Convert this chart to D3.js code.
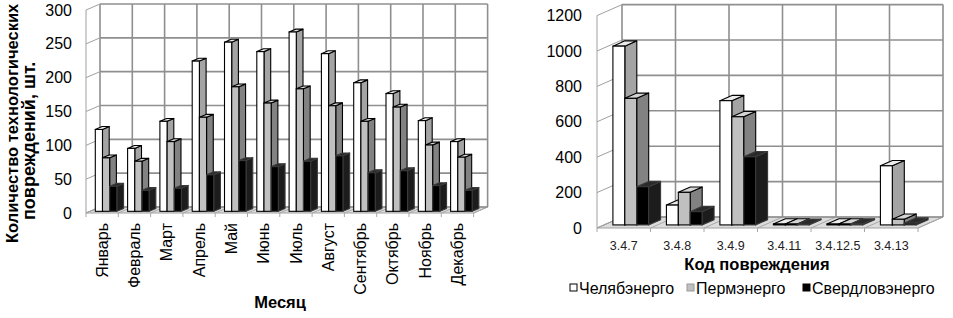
<!DOCTYPE html>
<html>
<head>
<meta charset="utf-8">
<script src="https://cdn.jsdelivr.net/npm/d3@7"></script>
<style>
  body { margin: 0; background: #fff; }
  svg { display: block; font-family: "Liberation Sans", Arial, sans-serif; }
</style>
</head>
<body>
<svg id="chart" width="953" height="318"></svg>
<script>
// data
const seriesNames = ["Челябэнерго", "Пермэнерго", "Свердловэнерго"];

const months = ["Январь", "Февраль", "Март", "Апрель", "Май", "Июнь",
                "Июль", "Август", "Сентябрь", "Октябрь", "Ноябрь", "Декабрь"];
const monthChel  = [121, 93, 133, 222, 250, 236, 265, 233, 190, 174, 134, 103];
const monthPerm  = [79, 74, 103, 139, 184, 160, 181, 156, 133, 154, 98, 80];
const monthSverd = [37, 31, 34, 54, 75, 66, 74, 82, 57, 60, 38, 31];
const monthTicks = [0, 50, 100, 150, 200, 250, 300];

const codes = ["3.4.7", "3.4.8", "3.4.9", "3.4.11", "3.4.12.5", "3.4.13"];
const codeChel  = [1010, 112, 702, 5, 5, 334];
const codePerm  = [715, 184, 611, 5, 5, 32];
const codeSverd = [216, 75, 385, 3, 5, 10];
const codeTicks = [0, 200, 400, 600, 800, 1000, 1200];

// bar colours: front, side, top
const barStyle = [
    {front: "#ffffff", side: "#a4a4a4", top: "#ececec", stroke: "#000"},
    {front: "#c0c0c0", side: "#828282", top: "#d4d4d4", stroke: "#000"},
    {front: "#000000", side: "#1c1c1c", top: "#2a2a2a", stroke: "#3a3a3a"}
];
const gridColor = "#8f8f8f";

let svg = d3.select("#chart");

function draw3dChart(g, cats, series, ticks, o) {
    let x = d3.scaleBand().domain(cats).range([o.x0, o.x1]);
    let sx = d3.scaleBand().domain(d3.range(series.length))
        .range([0, x.bandwidth()]).paddingInner(0).paddingOuter(0.75);
    let y = d3.scaleLinear().domain([0, d3.max(ticks)]).range([o.yBottom, o.yTop]);
    let DX = o.dx, DY = o.dy;
    let z0 = 0.28, dz = 0.48;

    // back wall
    g.append("rect")
        .attr("x", o.x0 + DX).attr("y", y(d3.max(ticks)) + DY)
        .attr("width", o.x1 - o.x0).attr("height", y(0) - y(d3.max(ticks)))
        .attr("fill", "#fff");

    // floor
    g.append("path")
        .attr("d", d3.line()([[o.x0, y(0)], [o.x1, y(0)], [o.x1 + DX, y(0) + DY], [o.x0 + DX, y(0) + DY]]) + "Z")
        .attr("fill", "#dcdcdc").attr("stroke", "#a0a0a0").attr("stroke-width", 1);

    let bounds = cats.map(c => x(c)).concat([o.x1]);

    // floor diagonals and ticks below the front edge
    g.selectAll(".floor-div").data(bounds).enter().append("line")
        .attr("x1", d => d).attr("y1", y(0))
        .attr("x2", d => d + DX).attr("y2", y(0) + DY)
        .attr("stroke", "#a8a8a8").attr("stroke-width", 1);
    g.selectAll(".floor-tick").data(bounds).enter().append("line")
        .attr("x1", d => d).attr("y1", y(0))
        .attr("x2", d => d).attr("y2", y(0) + 4)
        .attr("stroke", "#a8a8a8").attr("stroke-width", 1);

    // horizontal gridlines on back wall
    g.selectAll(".hgrid").data(ticks).enter().append("line")
        .attr("x1", o.x0 + DX).attr("x2", o.x1 + DX)
        .attr("y1", d => y(d) + DY).attr("y2", d => y(d) + DY)
        .attr("stroke", gridColor).attr("stroke-width", 1.6);
    // vertical gridlines on back wall
    g.selectAll(".vgrid").data(bounds).enter().append("line")
        .attr("x1", d => d + DX).attr("x2", d => d + DX)
        .attr("y1", y(d3.max(ticks)) + DY).attr("y2", y(0) + DY)
        .attr("stroke", gridColor).attr("stroke-width", 1.6);

    // side wall: front axis line and diagonals
    g.append("line")
        .attr("x1", o.x0).attr("x2", o.x0)
        .attr("y1", y(0)).attr("y2", y(d3.max(ticks)))
        .attr("stroke", "#a0a0a0").attr("stroke-width", 1);
    g.selectAll(".sgrid").data(ticks).enter().append("line")
        .attr("x1", o.x0).attr("y1", d => y(d))
        .attr("x2", o.x0 + DX).attr("y2", d => y(d) + DY)
        .attr("stroke", "#a0a0a0").attr("stroke-width", 1);

    // bars
    let bars = [];
    cats.forEach(function(c, i) {
        series.forEach(function(s, k) { bars.push({cat: c, k: k, v: s[i]}); });
    });
    let bdx = dz * DX, bdy = dz * DY;
    let bar = g.selectAll(".bar").data(bars).enter().append("g").attr("class", "bar");
    bar.each(function(d) {
        let st = barStyle[d.k];
        let xl = x(d.cat) + sx(d.k) + z0 * DX;
        let xr = xl + sx.bandwidth();
        let yb = y(0) + z0 * DY;
        let yt = y(d.v) + z0 * DY;
        let sel = d3.select(this);
        sel.append("path")
            .attr("d", d3.line()([[xr, yt], [xr + bdx, yt + bdy], [xr + bdx, yb + bdy], [xr, yb]]) + "Z")
            .attr("fill", st.side).attr("stroke", st.stroke).attr("stroke-width", 1.1).attr("stroke-linejoin", "round");
        sel.append("path")
            .attr("d", d3.line()([[xl, yt], [xr, yt], [xr + bdx, yt + bdy], [xl + bdx, yt + bdy]]) + "Z")
            .attr("fill", st.top).attr("stroke", st.stroke).attr("stroke-width", 1.1).attr("stroke-linejoin", "round");
        sel.append("rect")
            .attr("x", xl).attr("y", yt).attr("width", xr - xl).attr("height", yb - yt)
            .attr("fill", st.front).attr("stroke", st.stroke).attr("stroke-width", 1.1);
    });

    // value axis labels
    g.append("g")
        .attr("transform", "translate(" + o.labelX + ",0)")
        .call(d3.axisLeft(y).tickValues(ticks).tickFormat(d3.format("d")).tickSize(0).tickPadding(0))
        .call(a => a.select(".domain").remove())
        .selectAll("text")
        .attr("fill", "#000")
        .style("font-size", "16px");

    return {x: x, y: y};
}

// ---------- left chart ----------
let left = svg.append("g");
draw3dChart(left, months, [monthChel, monthPerm, monthSverd], monthTicks,
    {x0: 86, x1: 473.6, yBottom: 213, yTop: 10, dx: 14, dy: -6, labelX: 72});

let lx = d3.scaleBand().domain(months).range([86, 473.6]);
left.append("g")
    .attr("transform", "translate(0,213)")
    .call(d3.axisBottom(lx).tickSize(0))
    .call(a => a.select(".domain").remove())
    .selectAll("text")
    .attr("transform", "rotate(-90)")
    .attr("x", -10).attr("y", 0).attr("dy", "0.35em")
    .style("text-anchor", "end")
    .style("font-size", "16px")
    .attr("fill", "#000");

left.append("text").text("Месяц")
    .attr("x", 280).attr("y", 308)
    .style("text-anchor", "middle").style("font-weight", "bold").style("font-size", "16.5px");

// axis title
left.append("text").text("Количество технологических")
    .attr("transform", "translate(18,243) rotate(-90)")
    .style("text-anchor", "start").style("font-weight", "bold").style("font-size", "16.5px");
left.append("text").text("повреждений, шт.")
    .attr("transform", "translate(35,220) rotate(-90)")
    .style("text-anchor", "start").style("font-weight", "bold").style("font-size", "18px");

// ---------- right chart ----------
let right = svg.append("g");
draw3dChart(right, codes, [codeChel, codePerm, codeSverd], codeTicks,
    {x0: 597, x1: 918, yBottom: 228, yTop: 15.6, dx: 25, dy: -11, labelX: 582});

let rx = d3.scaleBand().domain(codes).range([597, 918]);
right.append("g")
    .attr("transform", "translate(0,228)")
    .call(d3.axisBottom(rx).tickSize(0).tickPadding(13))
    .call(a => a.select(".domain").remove())
    .selectAll("text")
    .style("font-size", "12.5px")
    .attr("fill", "#222");

right.append("text").text("Код повреждения")
    .attr("x", 757).attr("y", 270)
    .style("text-anchor", "middle").style("font-weight", "bold").style("font-size", "16.5px");

// legend
let legendX = [570, 687, 803];
let legend = right.selectAll(".legend_item").data(seriesNames).enter()
    .append("g").attr("class", "legend_item")
    .attr("transform", (d, i) => "translate(" + legendX[i] + ",294)");
legend.append("rect")
    .attr("x", 0).attr("y", -10).attr("width", 7).attr("height", 7)
    .attr("fill", (d, i) => barStyle[i].front)
    .attr("stroke", (d, i) => i === 1 ? "#999" : "#000").attr("stroke-width", 1);
legend.append("text").text(d => d)
    .attr("x", 9).attr("y", 0)
    .style("font-size", "16px");
</script>
</body>
</html>
